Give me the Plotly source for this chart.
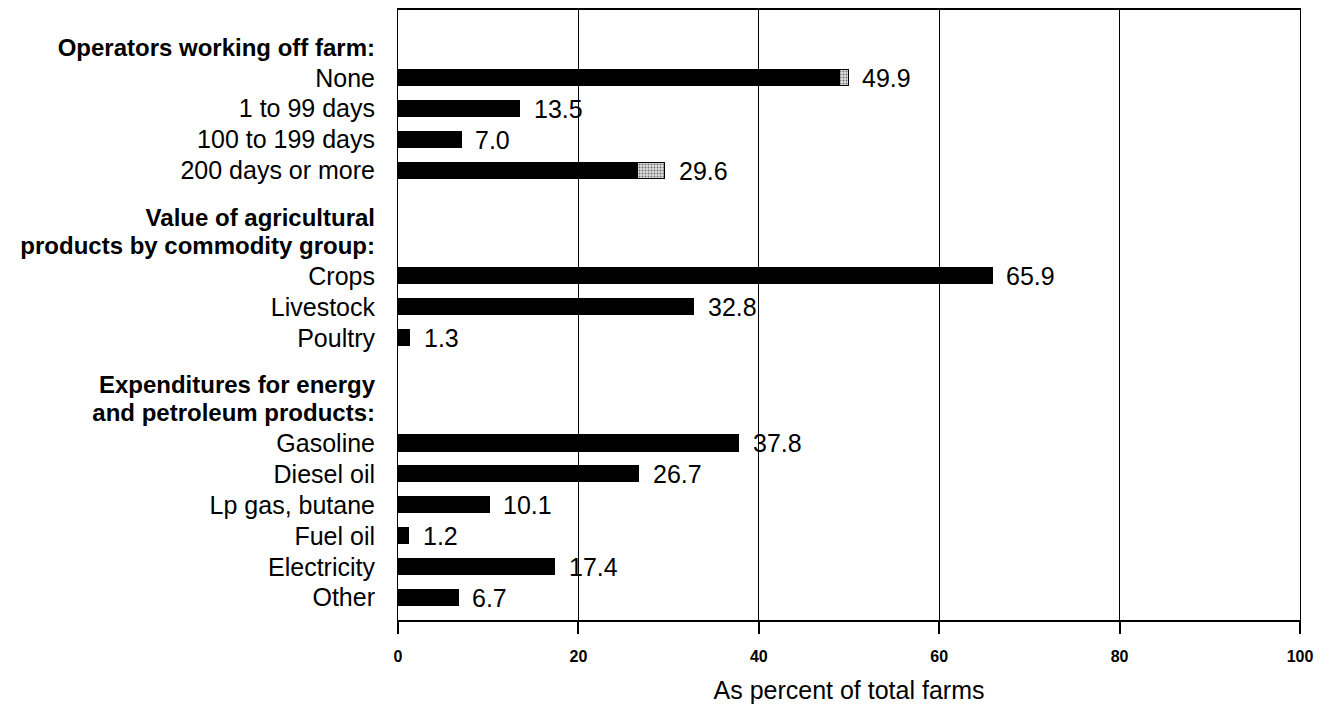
import plotly.graph_objects as go

# ---- data ----
group_titles = [
    ["Operators working off farm:"],
    ["Value of agricultural", "products by commodity group:"],
    ["Expenditures for energy", "and petroleum products:"],
]
group_items = [
    ["None", "1 to 99 days", "100 to 199 days", "200 days or more"],
    ["Crops", "Livestock", "Poultry"],
    ["Gasoline", "Diesel oil", "Lp gas, butane", "Fuel oil", "Electricity", "Other"],
]
group_values = [
    [49.9, 13.5, 7.0, 29.6],
    [65.9, 32.8, 1.3],
    [37.8, 26.7, 10.1, 1.2, 17.4, 6.7],
]
group_stippled = [
    [1.0, 0, 0, 3.1],
    [0, 0, 0],
    [0, 0, 0, 0, 0, 0],
]
x_ticks = [0, 20, 40, 60, 80, 100]
x_title = "As percent of total farms"

FONT = "Liberation Sans, Arial, sans-serif"

# ---- layout of rows (in row units) ----
tick_pos, tick_text = [], []
bar_pos, bar_solid, bar_stip, bar_total = [], [], [], []
pos = 0.0
for g, (titles, items, vals, stip) in enumerate(zip(group_titles, group_items, group_values, group_stippled)):
    if g > 0:
        pos += 1.5
    for k, t in enumerate(titles):
        if k > 0:
            pos += 0.9
        tick_pos.append(pos)
        tick_text.append("<b><span style='font-size:24px'>" + t + "</span></b>")
    for it, v, s in zip(items, vals, stip):
        pos += 1.0
        tick_pos.append(pos)
        tick_text.append(it)
        bar_pos.append(pos)
        bar_solid.append(round(v - s, 2))
        bar_stip.append(s)
        bar_total.append(v)

fig = go.Figure()
fig.add_trace(go.Bar(
    y=bar_pos, x=bar_solid, orientation="h", width=0.52,
    marker=dict(color="black", line=dict(color="black", width=1)),
    hoverinfo="skip", showlegend=False,
))
fig.add_trace(go.Bar(
    y=bar_pos, x=bar_stip, orientation="h", width=0.52,
    marker=dict(color="#d0d0d0", line=dict(color="black", width=1),
                pattern=dict(shape=".", fgcolor="black", bgcolor="#e0e0e0", size=3, solidity=0.35)),
    hoverinfo="skip", showlegend=False,
))

for p, v in zip(bar_pos, bar_total):
    fig.add_annotation(x=v, y=p, text=f"{v:.1f}", showarrow=False,
                       xanchor="left", yanchor="middle", xshift=12,
                       font=dict(family=FONT, size=25, color="black"))

fig.update_layout(
    barmode="stack",
    width=1321, height=700,
    margin=dict(l=390, r=29, t=0, b=88),
    plot_bgcolor="white", paper_bgcolor="white",
    font=dict(family=FONT, color="black"),
    xaxis=dict(
        range=[0, 100], tickvals=x_ticks, ticktext=["<b>%d</b>" % t for t in x_ticks],
        showgrid=True, gridcolor="black", gridwidth=1,
        showline=True, linecolor="black", linewidth=2, mirror=True,
        ticks="outside", ticklen=12, tickcolor="black", tickwidth=2,
        tickfont=dict(size=16, family=FONT),
        ticklabelstandoff=9,
        title=dict(text=x_title, font=dict(size=25), standoff=17),
        zeroline=False,
    ),
    yaxis=dict(
        range=[18.52, -1.19], tickvals=tick_pos, ticktext=tick_text,
        showgrid=False, zeroline=False,
        showline=True, linecolor="black", linewidth=1, mirror=True,
        ticks="", tickfont=dict(size=25, family=FONT),
        ticklabelstandoff=17,
    ),
)

fig.write_html("out.html")
